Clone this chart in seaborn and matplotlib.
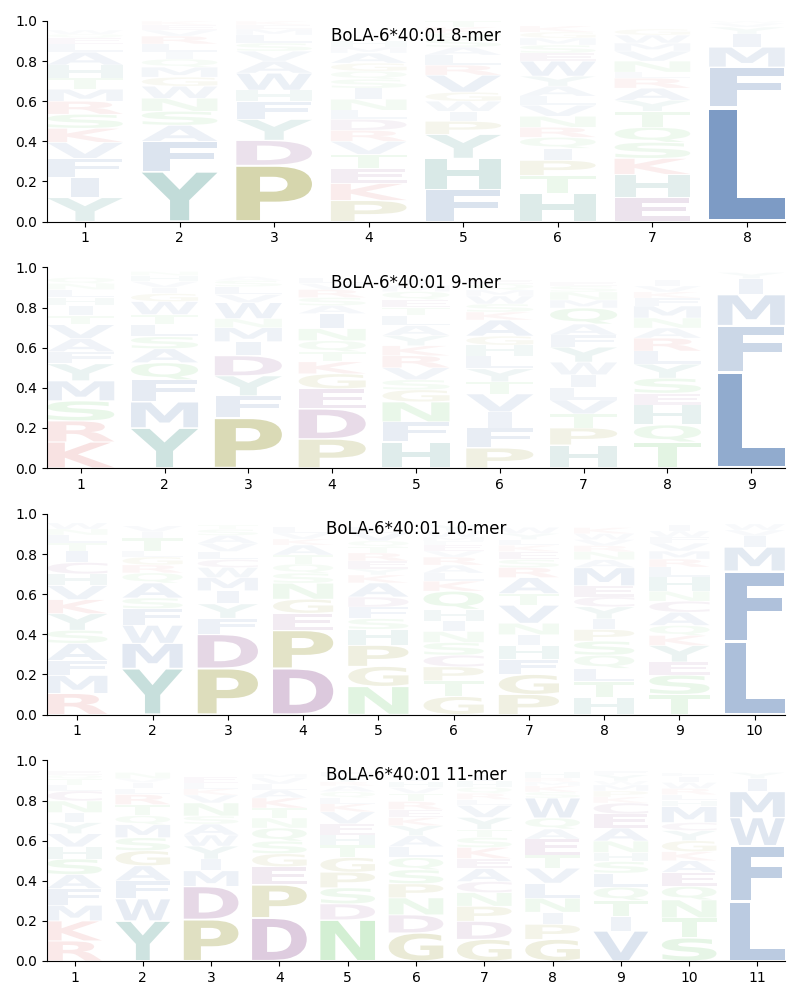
"""Sequence logos for BoLA-6*40:01 peptides of length 8-11."""
import matplotlib
matplotlib.use("Agg")
import matplotlib.pyplot as plt
import seaborn as sns
from matplotlib.textpath import TextPath
from matplotlib.patches import PathPatch
from matplotlib.font_manager import FontProperties
from matplotlib.transforms import Affine2D

ALLELE = "BoLA-6*40:01"

# letter frequencies per position, listed bottom to top of each stack
mer8 = [
    [("Y", .12), ("I", .10), ("F", .095), ("V", .08), ("K", .07), ("S", .07), ("R", .065),
     ("M", .06), ("T", .055), ("H", .065), ("A", .065), ("L", .04), ("E", .03), ("Q", .02), ("W", .02)],
    [("Y", .25), ("F", .15), ("A", .08), ("S", .07), ("N", .065), ("W", .06), ("G", .045),
     ("M", .05), ("Q", .04), ("I", .035), ("L", .04), ("R", .04), ("V", .03), ("E", .025), ("K", .02)],
    [("P", .28), ("D", .125), ("Y", .105), ("F", .09), ("H", .055), ("W", .085), ("A", .06),
     ("V", .05), ("S", .04), ("L", .04), ("M", .03), ("E", .02), ("K", .02)],
    [("P", .105), ("K", .085), ("E", .075), ("T", .07), ("V", .065), ("R", .055), ("D", .055),
     ("L", .045), ("N", .055), ("I", .055), ("S", .045), ("Q", .04), ("G", .04), ("A", .05),
     ("M", .03), ("H", .03)],
    [("F", .16), ("H", .155), ("Y", .12), ("P", .065), ("I", .05), ("W", .05), ("G", .045),
     ("V", .085), ("R", .05), ("L", .05), ("A", .04), ("S", .04), ("Q", .03), ("K", .03), ("T", .03)],
    [("H", .14), ("T", .09), ("P", .075), ("I", .06), ("Q", .055), ("R", .05), ("N", .055),
     ("V", .055), ("L", .045), ("A", .05), ("Y", .05), ("W", .075), ("E", .04), ("S", .04),
     ("M", .035), ("G", .03), ("K", .03)],
    [("E", .12), ("H", .115), ("K", .08), ("S", .08), ("Q", .075), ("T", .08), ("Y", .055),
     ("A", .06), ("R", .05), ("L", .03), ("N", .055), ("V", .05), ("M", .04), ("W", .04), ("G", .03)],
    [("L", .57), ("F", .2), ("M", .1), ("I", .065), ("Y", .035), ("V", .02), ("W", .01)],
]

mer9 = [
    [("K", .13), ("R", .105), ("S", .1), ("M", .1), ("Y", .085), ("F", .06), ("A", .065),
     ("V", .07), ("T", .045), ("I", .05), ("H", .04), ("L", .04), ("N", .03), ("Q", .03)],
    [("Y", .2), ("M", .13), ("F", .11), ("Q", .085), ("A", .07), ("S", .06), ("L", .06),
     ("T", .05), ("W", .065), ("G", .04), ("I", .03), ("V", .03), ("H", .03), ("N", .02)],
    [("P", .25), ("F", .11), ("Y", .1), ("D", .1), ("I", .07), ("M", .07), ("N", .045),
     ("W", .08), ("V", .04), ("L", .04), ("S", .03), ("A", .02)],
    [("P", .145), ("D", .15), ("E", .1), ("G", .075), ("K", .06), ("T", .05), ("Q", .055),
     ("N", .06), ("I", .075), ("A", .04), ("S", .04), ("R", .04), ("V", .03), ("L", .03)],
    [("H", .13), ("F", .1), ("N", .1), ("G", .06), ("S", .05), ("V", .06), ("R", .06), ("K", .05),
     ("Y", .05), ("A", .05), ("L", .05), ("T", .04), ("E", .04), ("Q", .04), ("M", .03), ("I", .03)],
    [("P", .1), ("F", .1), ("I", .08), ("V", .09), ("T", .06), ("Y", .065), ("L", .063),
     ("H", .055), ("G", .045), ("A", .08), ("K", .04), ("S", .04), ("W", .04), ("M", .03),
     ("Q", .03), ("E", .02)],
    [("H", .115), ("P", .085), ("T", .07), ("V", .07), ("L", .062), ("I", .063), ("W", .063),
     ("Y", .075), ("F", .06), ("A", .055), ("Q", .08), ("M", .04), ("N", .04), ("S", .03), ("E", .02)],
    [("T", .13), ("Q", .085), ("H", .1), ("E", .058), ("S", .075), ("Y", .07), ("L", .065),
     ("R", .065), ("A", .05), ("N", .05), ("M", .06), ("F", .04), ("K", .03), ("V", .03), ("I", .03)],
    [("L", .48), ("F", .23), ("M", .155), ("I", .08), ("Y", .03)],
]

mer10 = [
    [("R", .105), ("M", .09), ("F", .075), ("A", .085), ("S", .065), ("Y", .083), ("K", .07),
     ("V", .07), ("H", .058), ("C", .057), ("I", .057), ("T", .04), ("L", .04), ("N", .03), ("W", .03)],
    [("Y", .23), ("M", .125), ("W", .09), ("F", .083), ("S", .053), ("A", .075), ("Q", .05),
     ("R", .04), ("G", .04), ("L", .03), ("T", .065), ("I", .03), ("V", .03)],
    [("P", .23), ("D", .17), ("F", .08), ("Y", .072), ("I", .065), ("M", .066), ("W", .05),
     ("C", .04), ("L", .04), ("V", .04), ("A", .04), ("S", .03), ("T", .02)],
    [("D", .23), ("P", .19), ("E", .085), ("G", .07), ("N", .08), ("S", .05), ("Q", .045),
     ("T", .045), ("A", .05), ("K", .03), ("V", .03), ("L", .03)],
    [("N", .14), ("G", .1), ("P", .105), ("H", .08), ("S", .053), ("F", .058), ("D", .05),
     ("A", .07), ("K", .04), ("Y", .03), ("E", .04), ("R", .04), ("T", .03), ("Q", .03),
     ("V", .04), ("L", .03)],
    [("G", .09), ("T", .078), ("P", .07), ("C", .058), ("S", .063), ("N", .055), ("I", .053),
     ("H", .058), ("Q", .09), ("K", .05), ("L", .04), ("A", .04), ("R", .04), ("V", .03),
     ("E", .03), ("F", .02), ("M", .02), ("W", .03), ("Y", .03)],
    [("P", .1), ("G", .1), ("F", .075), ("H", .07), ("I", .053), ("N", .057), ("V", .09),
     ("T", .058), ("A", .08), ("R", .05), ("S", .04), ("E", .04), ("K", .03), ("L", .03),
     ("Y", .03), ("W", .03)],
    [("H", .085), ("T", .08), ("L", .065), ("Q", .066), ("S", .07), ("P", .058), ("I", .053),
     ("Y", .06), ("C", .05), ("E", .055), ("M", .09), ("A", .04), ("N", .04), ("R", .03),
     ("V", .03), ("W", .03), ("K", .03)],
    [("T", .1), ("S", .097), ("E", .065), ("Y", .082), ("K", .05), ("Q", .05), ("A", .066),
     ("C", .055), ("N", .05), ("H", .07), ("L", .05), ("R", .04), ("M", .04), ("V", .04),
     ("F", .03), ("W", .03), ("I", .03)],
    [("L", .365), ("F", .35), ("M", .12), ("I", .055), ("V", .03), ("W", .03)],
]

mer11 = [
    [("R", .1), ("K", .1), ("M", .078), ("F", .083), ("A", .07), ("S", .078), ("H", .06),
     ("V", .066), ("Y", .055), ("I", .05), ("N", .058), ("C", .05), ("L", .03), ("T", .03),
     ("Q", .02), ("E", .02)],
    [("Y", .2), ("W", .11), ("F", .09), ("A", .075), ("G", .075), ("S", .065), ("M", .065),
     ("Q", .045), ("T", .055), ("R", .05), ("L", .03), ("I", .03), ("V", .02), ("N", .03)],
    [("P", .207), ("D", .165), ("M", .078), ("I", .058), ("Y", .065), ("W", .055), ("A", .055),
     ("S", .04), ("N", .065), ("V", .04), ("K", .03), ("L", .03), ("E", .03)],
    [("D", .215), ("P", .165), ("E", .09), ("G", .065), ("S", .063), ("Q", .065), ("N", .05),
     ("T", .05), ("K", .05), ("A", .04), ("L", .03), ("V", .03), ("M", .02)],
    [("N", .205), ("D", .08), ("S", .08), ("P", .078), ("G", .073), ("T", .063), ("H", .05),
     ("E", .055), ("V", .06), ("K", .04), ("L", .03), ("Q", .03), ("A", .03), ("R", .02),
     ("Y", .03), ("F", .02)],
    [("G", .14), ("D", .09), ("N", .085), ("P", .07), ("S", .07), ("Q", .06), ("L", .055),
     ("A", .055), ("Y", .05), ("K", .04), ("E", .04), ("R", .04), ("T", .04), ("V", .03),
     ("H", .03), ("I", .03)],
    [("G", .108), ("D", .09), ("P", .075), ("N", .068), ("C", .055), ("A", .065), ("E", .05),
     ("K", .055), ("S", .05), ("T", .04), ("Y", .06), ("V", .06), ("L", .03), ("R", .03),
     ("Q", .03), ("H", .03), ("I", .03)],
    [("G", .108), ("P", .075), ("I", .06), ("N", .07), ("L", .075), ("V", .075), ("T", .065),
     ("E", .08), ("A", .05), ("Q", .055), ("W", .1), ("S", .03), ("K", .03), ("M", .02),
     ("R", .02), ("H", .03)],
    [("V", .15), ("I", .07), ("T", .082), ("Q", .066), ("L", .07), ("S", .058), ("H", .045),
     ("N", .057), ("A", .065), ("E", .07), ("C", .055), ("K", .03), ("P", .03), ("M", .03),
     ("W", .02), ("Y", .03), ("F", .02)],
    [("S", .115), ("T", .1), ("N", .09), ("Q", .067), ("E", .07), ("A", .058), ("K", .045),
     ("G", .055), ("Y", .05), ("C", .04), ("M", .08), ("H", .03), ("L", .03), ("R", .03),
     ("W", .03), ("I", .03), ("F", .02)],
    [("L", .295), ("F", .28), ("W", .14), ("M", .13), ("I", .065), ("Y", .03)],
]

panels = [("8-mer", mer8), ("9-mer", mer9), ("10-mer", mer10), ("11-mer", mer11)]

# amino acid colour groups
group_colors = {
    "AFILMVW": "#3967a7",   # hydrophobic
    "HY": "#2d867c",
    "GP": "#808000",
    "CDE": "#7b337f",
    "KR": "#d43f3f",
    "NQST": "#45bb45",
}
aa_color = {aa: c for group, c in group_colors.items() for aa in group}

FONT = FontProperties(family="DejaVu Sans", weight="bold")
_paths = {}


def glyph(ch):
    if ch not in _paths:
        _paths[ch] = TextPath((0, 0), ch, size=1, prop=FONT)
    return _paths[ch]


REF_WIDTH = glyph("E").get_extents().width


def draw_letter(ax, ch, x, y0, h, width=0.8, vpad=0.05):
    tp = glyph(ch)
    bb = tp.get_extents()
    # narrow letters keep their own proportion, wide ones are squeezed
    w = width * min(1.0, bb.width / REF_WIDTH)
    hh = h * (1 - vpad)
    tr = (Affine2D()
          .translate(-bb.x0, -bb.y0)
          .scale(w / bb.width, hh / bb.height)
          .translate(x - w / 2, y0 + h * vpad / 2))
    alpha = min(1.0, 1.15 * h)
    ax.add_patch(PathPatch(tr.transform_path(tp), fc=aa_color[ch], ec="none", alpha=alpha))


sns.set_style("ticks", {"axes.edgecolor": "black", "text.color": "black",
                        "xtick.color": "black", "ytick.color": "black"})
plt.rcParams["font.family"] = ["DejaVu Sans"]
fig, axes = plt.subplots(4, 1, figsize=(8, 10))
fig.subplots_adjust(left=0.059, right=0.981, top=0.979, bottom=0.039, hspace=0.229)

for ax, (label, positions) in zip(axes, panels):
    for pos, stack in enumerate(positions, start=1):
        y = 0.0
        for ch, h in stack:
            draw_letter(ax, ch, pos, y, h)
            y += h
    n = len(positions)
    ax.set_xlim(0.6, n + 0.4)
    ax.set_ylim(0, 1)
    ax.set_xticks(range(1, n + 1))
    ax.set_yticks([0, 0.2, 0.4, 0.6, 0.8, 1.0])
    ax.text(0.5, 0.925, f"{ALLELE} {label}", transform=ax.transAxes,
            ha="center", va="center", fontsize=12)
    sns.despine(ax=ax)

fig.savefig("out.png", dpi=100)
